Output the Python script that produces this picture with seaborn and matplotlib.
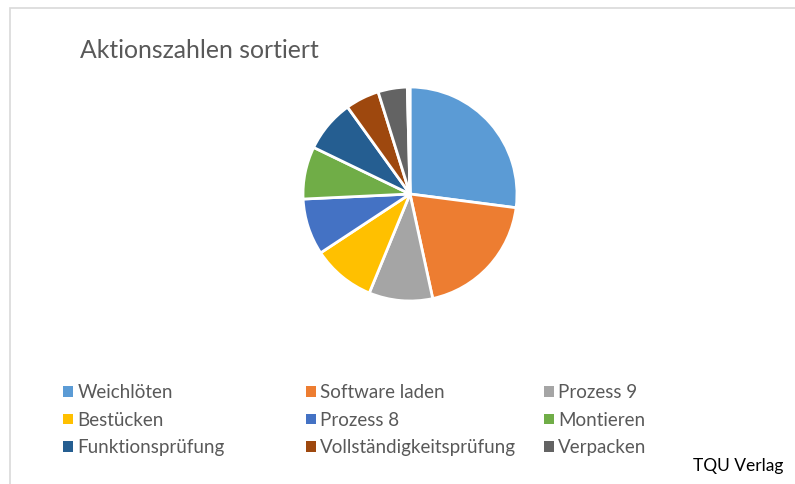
import matplotlib
matplotlib.use("Agg")
import matplotlib.pyplot as plt
from matplotlib.patches import Rectangle
import seaborn as sns

# --- Data ---
labels = ["Weichlöten", "Software laden", "Prozess 9", "Bestücken", "Prozess 8",
          "Montieren", "Funktionsprüfung", "Vollständigkeitsprüfung", "Verpacken", "Rest"]
values = [27.0, 19.5, 9.6, 9.5, 8.5, 7.9, 7.9, 5.1, 4.4, 0.4]
colors = ["#5B9BD5", "#ED7D31", "#A5A5A5", "#FFC000", "#4472C4",
          "#70AD47", "#255E91", "#9E480E", "#636363", "#997300"]

sns.set_theme(style="white")
plt.rcParams["font.family"] = ["Lato", "DejaVu Sans"]

W, H = 795, 484
fig = plt.figure(figsize=(W / 100, H / 100), dpi=100)

# chart frame (only left and top edges visible)
fig.patches.append(Rectangle((9.5 / W, -0.5), 2, 1.5 - 7.5 / H, transform=fig.transFigure,
                             fill=False, edgecolor="#D9D9D9", linewidth=1.2))

# --- Pie ---
cx, cy, r = 410, 194, 107
ax = fig.add_axes([(cx - r) / W, (H - cy - r) / H, 2 * r / W, 2 * r / H])
wedges, _ = ax.pie(values, colors=colors, startangle=90, counterclock=False,
                   wedgeprops=dict(edgecolor="white", linewidth=2))
ax.set_xlim(-1.0, 1.0)
ax.set_ylim(-1.0, 1.0)
ax.set_axis_off()

# --- Title ---
fig.text(80 / W, 1 - 50 / H, "Aktionszahlen sortiert", fontsize=17.8, color="#595959",
         va="center", ha="left")

# --- Legend (3 columns, row-wise order) ---
col_x = [54, 297, 535]
for c in range(3):
    idx = [c, c + 3, c + 6]
    leg = fig.legend([wedges[i] for i in idx], [labels[i] for i in idx],
                     loc="upper left", bbox_to_anchor=(col_x[c] / W, 1 - 375 / H),
                     frameon=False, fontsize=13.5, labelcolor="#595959",
                     handlelength=0.5, handleheight=0.5, handletextpad=0.25,
                     labelspacing=0.55, borderpad=0)
    for h in leg.legend_handles:
        h.set_linewidth(0)

fig.text(783 / W, 1 - 466 / H, "TQU Verlag", fontsize=12.5, color="black",
         ha="right", va="center")

fig.savefig("out.png", dpi=100)
